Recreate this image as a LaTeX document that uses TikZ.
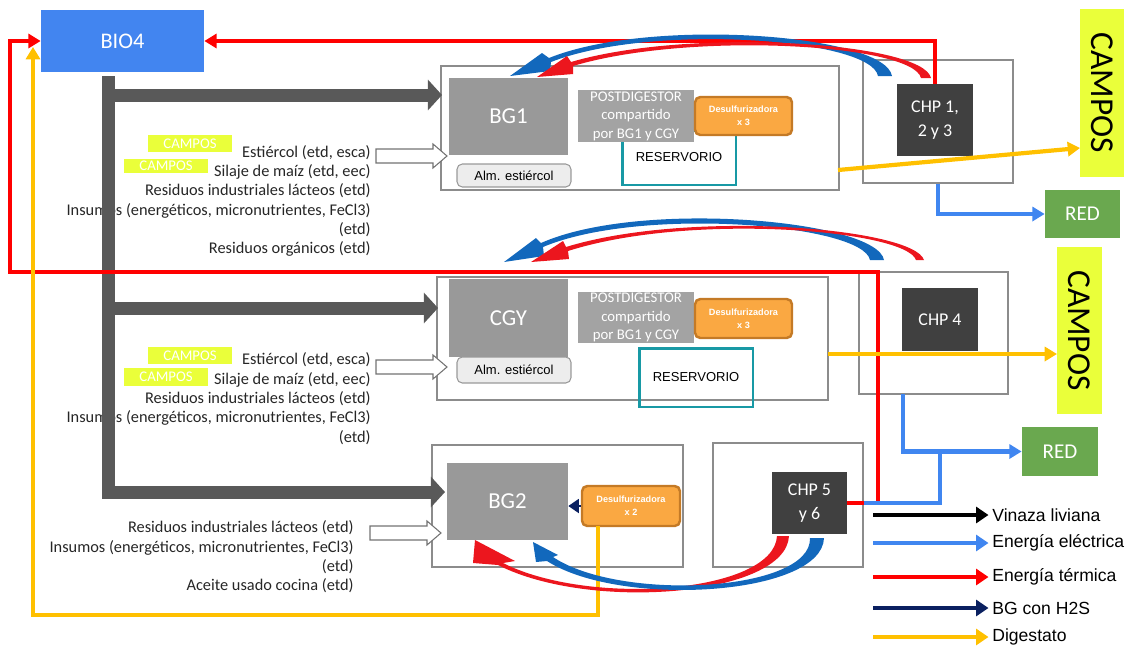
\documentclass[tikz,border=0pt]{standalone}
\usepackage{fontspec}
\setmainfont{Carlito}
\newfontfamily\arialfont{Liberation Sans}
\usetikzlibrary{arrows.meta,fit}

\definecolor{bioblue}{RGB}{66,133,240}
\definecolor{procgray}{RGB}{153,153,153}
\definecolor{postgray}{RGB}{163,163,163}
\definecolor{desfill}{RGB}{250,168,66}
\definecolor{desline}{RGB}{196,122,38}
\definecolor{chpdark}{RGB}{64,64,64}
\definecolor{fieldyellow}{RGB}{234,255,58}
\definecolor{gridgreen}{RGB}{106,168,79}
\definecolor{resteal}{RGB}{24,153,165}
\definecolor{feedgray}{RGB}{89,89,89}
\definecolor{heatred}{RGB}{255,0,0}
\definecolor{elecblue}{RGB}{64,134,240}
\definecolor{diggold}{RGB}{255,192,0}
\definecolor{h2snavy}{RGB}{10,32,96}
\definecolor{arcblue}{RGB}{18,104,188}
\definecolor{arcred}{RGB}{236,22,30}

\tikzset{
  unitframe/.style={draw=black!45,line width=0.6pt,inner sep=0pt},
  tank/.style={fill=procgray,text=white,inner sep=0pt,font=\fontsize{13}{15}\selectfont},
  postd/.style={fill=postgray,text=white,inner sep=0pt,align=center,font=\fontsize{8.4}{10.5}\selectfont},
  desulf/.style={fill=desfill,draw=desline,line width=1.4pt,rounded corners=3pt,text=white,inner sep=0pt,align=center,font=\arialfont\bfseries\fontsize{5.2}{7.3}\selectfont},
  storage/.style={fill=black!7,draw=black!40,line width=0.6pt,rounded corners=3pt,inner sep=0pt,font=\arialfont\fontsize{7.4}{9}\selectfont},
  reserv/.style={draw=resteal,line width=1.7pt,inner sep=0pt,font=\arialfont\fontsize{7.4}{9}\selectfont},
  chp/.style={fill=chpdark,text=white,inner sep=0pt,align=center,font=\fontsize{10.2}{13.5}\selectfont},
  fields/.style={fill=fieldyellow,inner sep=0pt},
  gridbox/.style={fill=gridgreen,text=white,inner sep=0pt,font=\fontsize{12}{14}\selectfont},
  tag/.style={fill=fieldyellow,text=white,inner sep=0pt,minimum width=1.68cm,font=\fontsize{8.4}{10}\selectfont},
  inputs/.style={align=right,anchor=north east,inner sep=0pt,text=black!85,font=\fontsize{9.3}{11}\selectfont},
  inarrow/.style={draw=black!55,fill=white,line width=0.6pt},
  feed/.style={feedgray,line width=7.4pt,-{Triangle[length=8pt,width=17pt]}},
  heat/.style={heatred,line width=2.6pt,-{Triangle[length=7pt,width=8pt]}},
  elec/.style={elecblue,line width=2.4pt,-{Triangle[length=7pt,width=8pt]}},
  dig/.style={diggold,line width=2.4pt,-{Triangle[length=7pt,width=8pt]}},
  legarrow/.style={line width=2.4pt,-{Triangle[length=7pt,width=9pt]},shorten >=2pt},
  legtext/.style={anchor=west,inner sep=0pt,font=\arialfont\fontsize{10}{12}\selectfont}
}

\begin{document}
\begin{tikzpicture}[x=0.02cm,y=-0.02cm]
\useasboundingbox (0,0) rectangle (1130,650);

% plant frames
\node[unitframe,fit={(441,66) (839,190)}] (bg1frame) {};
\node[unitframe,fit={(863,60) (1013,183)}] (chpAframe) {};
\node[unitframe,fit={(437,277) (828,400)}] (cgyframe) {};
\node[unitframe,fit={(859,272) (1008,394)}] (chpBframe) {};
\node[unitframe,fit={(432,445) (683,567)}] (bg2frame) {};
\node[unitframe,fit={(713,443) (863,567)}] (chpCframe) {};

\node[fill=bioblue,text=white,inner sep=0pt,minimum width=3.26cm,minimum height=1.24cm,font=\fontsize{12.7}{15}\selectfont] (bio4) at (122.5,41) {BIO4};

% BG1
\node[tank,minimum width=2.38cm,minimum height=1.54cm] (bg1) at (508.5,116.5) {BG1};
\node[storage,minimum width=2.28cm,minimum height=0.46cm] (almA) at (514,175.5) {Alm. estiércol};
\node[reserv,minimum width=2.28cm,minimum height=1.10cm] (resA) at (679,157.5) {RESERVORIO};
\node[postd,minimum width=2.32cm,minimum height=1.04cm] (postA) at (636,116) {POSTDIGESTOR\\compartido\\por BG1 y CGY};
\node[desulf,minimum width=1.94cm,minimum height=0.76cm] (desA) at (743.5,116) {Desulfurizadora\\x 3};
\node[chp,minimum width=1.52cm,minimum height=1.44cm] (chpA) at (935,120) {CHP 1,\\2 y 3};

% CGY
\node[tank,minimum width=2.38cm,minimum height=1.56cm] (cgy) at (508.5,318) {CGY};
\node[storage,minimum width=2.28cm,minimum height=0.52cm] (almB) at (514,370) {Alm. estiércol};
\node[reserv,minimum width=2.28cm,minimum height=1.18cm] (resB) at (696,377.5) {RESERVORIO};
\node[postd,minimum width=2.32cm,minimum height=1.02cm] (postB) at (636,317.5) {POSTDIGESTOR\\compartido\\por BG1 y CGY};
\node[desulf,minimum width=1.94cm,minimum height=0.78cm] (desB) at (743.5,318.5) {Desulfurizadora\\x 3};
\node[chp,minimum width=1.52cm,minimum height=1.26cm] (chpB) at (940,319.5) {CHP 4};

% BG2
\node[tank,minimum width=2.42cm,minimum height=1.54cm] (bg2) at (507.5,501.5) {BG2};
\node[desulf,minimum width=1.96cm,minimum height=0.80cm] (desC) at (631,506) {Desulfurizadora\\x 2};
\node[chp,minimum width=1.50cm,minimum height=1.24cm] (chpC) at (809.5,503) {CHP 5\\y 6};

% destinations
\node[fields,minimum width=0.88cm,minimum height=3.36cm] (camposA) at (1102,93) {};
\node[rotate=-90,font=\fontsize{19}{22}\selectfont] (camposAtxt) at (camposA) {CAMPOS};
\node[fields,minimum width=0.90cm,minimum height=3.34cm] (camposB) at (1079.5,330.5) {};
\node[rotate=-90,font=\fontsize{19}{22}\selectfont] (camposBtxt) at (camposB) {CAMPOS};
\node[gridbox,minimum width=1.50cm,minimum height=0.96cm] (redA) at (1082.5,214) {RED};
\node[gridbox,minimum width=1.52cm,minimum height=0.98cm] (redB) at (1060,451.5) {RED};

% inputs
\node[inputs] (feedA) at (371,145) {Estiércol (etd, esca)\\Silaje de maíz (etd, eec)\\Residuos industriales lácteos (etd)\\Insumos (energéticos, micronutrientes, FeCl3)\\(etd)\\Residuos orgánicos (etd)};
\node[inputs] (feedB) at (371,352.5) {Estiércol (etd, esca)\\Silaje de maíz (etd, eec)\\Residuos industriales lácteos (etd)\\Insumos (energéticos, micronutrientes, FeCl3)\\(etd)};
\node[inputs] (feedC) at (354,520.5) {Residuos industriales lácteos (etd)\\Insumos (energéticos, micronutrientes, FeCl3)\\(etd)\\Aceite usado cocina (etd)};
\node[tag,minimum height=0.34cm] (tagA1) at (190,143.5) {CAMPOS};
\node[tag,minimum height=0.28cm] (tagA2) at (166,166) {CAMPOS};
\node[tag,minimum height=0.34cm] (tagB1) at (190,355.5) {CAMPOS};
\node[tag,minimum height=0.36cm] (tagB2) at (166,377) {CAMPOS};
\foreach \xs/\yc in {376/156,376/367,370/533}
  \draw[inarrow] (\xs,\yc-7) -- ++(57,0) -- ++(0,-5) -- ++(14,12) -- ++(-14,12) -- ++(0,-5) -- ++(-57,0) -- cycle;

% feed lines
\coordinate (trunk) at (108,76);
\coordinate (inA) at (442,95);
\coordinate (inB) at (438,308);
\coordinate (inC) at (445,492);
\draw[feed] (trunk) |- (inC);
\draw[feed] (trunk |- inA) -- (inA);
\draw[feed] (trunk |- inB) -- (inB);

% heat
\coordinate (loopR) at (878,272);
\coordinate (loopL) at (10,272);
\draw[heat] (chpC.east) -| (loopR) -- (loopL) |- (bio4.west);
\draw[heat] (chpA.north) |- (bio4.east);

% electricity
\coordinate (chpBout) at (903,394);
\coordinate (busJ) at (940,452);
\draw[elec] (chpAframe.south) |- (redA.west);
\draw[elec] (chpBout) |- (redB.west);
\draw[elecblue,line width=2.4pt] (chpCframe.east |- chpC.east) -| (busJ);

% digestate
\coordinate (digOut) at (598,526);
\coordinate (digLow) at (33,615);
\coordinate (digIn) at (33,47);
\draw[dig] (digOut) |- (digLow) -- (digIn);
\coordinate (digA) at (838,170);
\coordinate (fieldA) at (1080,148);
\coordinate (digB) at (828,354);
\coordinate (fieldB) at (1057,354);
\draw[dig] (digA) -- (fieldA);
\draw[dig] (digB) -- (fieldB);

% biogas with H2S
\draw[h2snavy,line width=1pt,-{Triangle[length=6pt,width=8pt]}] (desC.west) -- (bg2.east |- desC.west);

% CHP return arcs
\fill[arcblue] (892,76) .. controls (885,34) and (650,17) .. (549,58) -- (542,53) -- (510,76) -- (550,71) -- (551,62) .. controls (650,23) and (871,38) .. (878,76) -- cycle;
\fill[arcred] (931,78) .. controls (923,42) and (690,27) .. (571,62) -- (567,56) -- (537,77) -- (573,74) -- (573,66) .. controls (690,31) and (913,44) .. (921,78) -- cycle;
\fill[arcblue] (884,260) .. controls (877,220) and (640,199) .. (541,243) -- (536,238) -- (504,262) -- (544,256) -- (543,247) .. controls (640,206) and (863,224) .. (870,260) -- cycle;
\fill[arcred] (924,260) .. controls (914,228) and (690,209) .. (566,247) -- (563,241) -- (531,262) -- (569,259) -- (568,251) .. controls (690,212) and (906,230) .. (916,260) -- cycle;
\fill[arcred] (789,536) .. controls (786,596) and (590,612) .. (498,565) -- (473,563) -- (475,540) -- (515,561) -- (503,563) .. controls (590,607) and (774,593) .. (777,536) -- cycle;
\fill[arcblue] (824,538) .. controls (822,596) and (620,608) .. (547,561) -- (536,562) -- (533,542) -- (558,555) -- (553,557) .. controls (620,602) and (812,592) .. (810,538) -- cycle;

% legend
\foreach \col/\y/\txt in {black/515/Vinaza liviana, elecblue/543/Energía eléctrica, heatred/577/Energía térmica, h2snavy/608/BG con H2S, diggold/637/Digestato} {
  \coordinate (lgs\y) at (873,\y);
  \node[legtext] (lgt\y) at (992,\y) {\txt};
  \draw[legarrow,\col] (lgs\y) -- (lgt\y.west);
}
\end{tikzpicture}
\end{document}
